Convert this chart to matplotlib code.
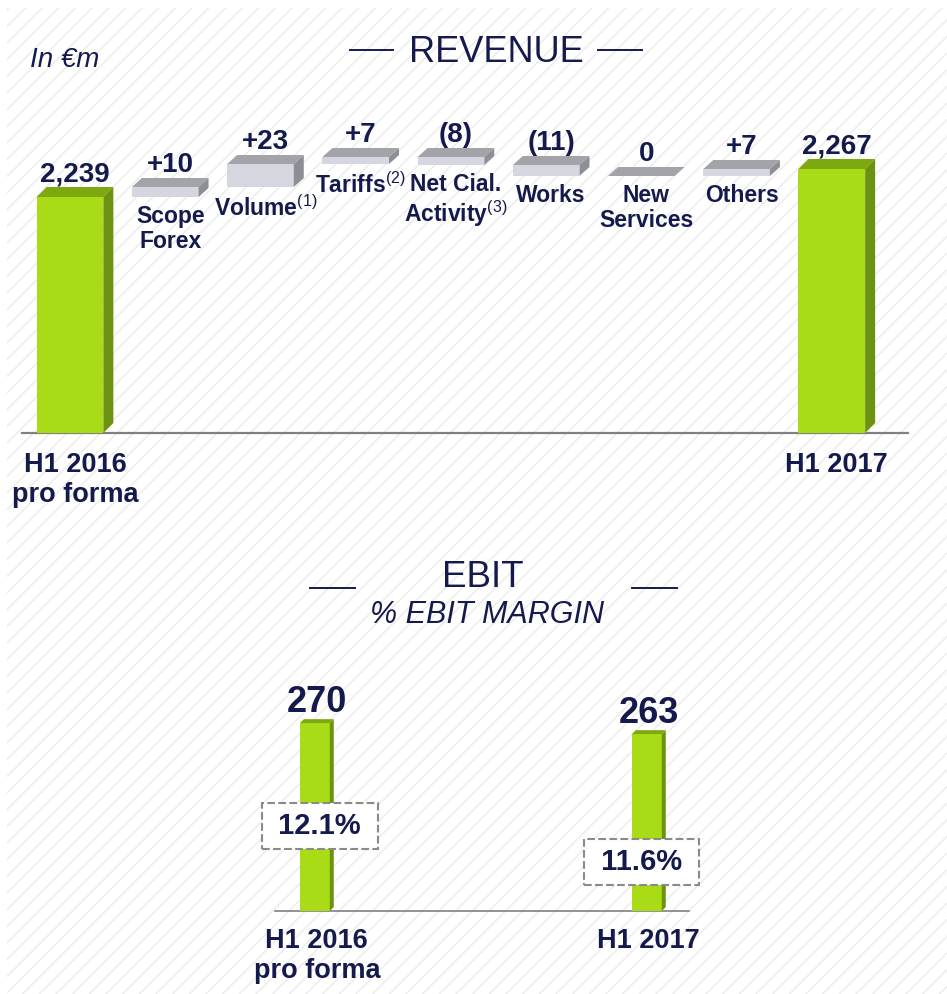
import matplotlib
matplotlib.use('Agg')
import numpy as np
import matplotlib.pyplot as plt
from matplotlib.patches import Polygon, Rectangle
from matplotlib.lines import Line2D
from matplotlib.transforms import blended_transform_factory

plt.rcParams['font.family'] = 'Liberation Sans'
plt.rcParams['mathtext.fontset'] = 'custom'
plt.rcParams['mathtext.rm'] = 'Liberation Sans'
plt.rcParams['hatch.linewidth'] = 1.0

# Revenue bridge (in €m)
rev_start = 2239
rev_end = 2267
rev_steps = [10, 23, 7, -8, -11, 0, 7]
rev_step_text = ['+10', '+23', '+7', '(8)', '(11)', '0', '+7']
rev_step_labels = ['Scope\nForex', r'Volume$^{\mathrm{(1)}}$', r'Tariffs$^{\mathrm{(2)}}$',
                   'Net Cial.\n' + r'Activity$^{\mathrm{(3)}}$', 'Works', 'New\nServices', 'Others']
rev_end_labels = ['H1 2016\npro forma', 'H1 2017']
rev_end_text = ['2,239', '2,267']

# EBIT
ebit_labels = ['H1 2016\npro forma', 'H1 2017']
ebit_values = [270, 263]
ebit_margin = ['12.1%', '11.6%']

NAVY = '#141a4c'
GREEN = ('#a9dc17', '#7da80f', '#6b9210')
GREY = ('#d4d7df', '#a3a4a9', '#8d8f94')

W, H = 947, 994


def fx(x):
    return x / W


def fy(y):
    return 1 - y / H


def bar3d(ax, x, lo, hi, width, dx, dy, colors):
    front, top, side = colors
    ax.bar(x, hi - lo, bottom=lo, width=width, color=front, zorder=2)
    l, r = x - width / 2, x + width / 2
    ax.add_patch(Polygon([(l, hi), (r, hi), (r + dx, hi + dy), (l + dx, hi + dy)],
                         closed=True, fc=top, ec='none', zorder=2))
    ax.add_patch(Polygon([(r, lo), (r + dx, lo + dy), (r + dx, hi + dy), (r, hi)],
                         closed=True, fc=side, ec='none', zorder=2))


fig = plt.figure(figsize=(W / 100, H / 100), dpi=100)

# faint diagonal texture of the slide background
fig.patches.append(Rectangle((fx(7), 0), 1, fy(8), transform=fig.transFigure,
                             fc='white', ec='#ebebeb', hatch='//', lw=0, zorder=-10))

# ---------------- REVENUE ----------------
rev_floor = 2003
ax = fig.add_axes([fx(22.4), fy(433), (908 - 22.4) / W, 333 / H])
ax.set_xlim(-0.5, 8.8)
ax.set_ylim(rev_floor, rev_floor + 333)
ax.axis('off')

w, dx, dy = 0.70, 0.105, 9
n = len(rev_steps)
cum = rev_start + np.cumsum([0] + rev_steps)

# end bars
for i, (val, txt, lab) in zip([0, n + 1], zip([rev_start, rev_end], rev_end_text, rev_end_labels)):
    bar3d(ax, i, rev_floor, val, w, dx, 10, GREEN)
    ax.annotate(txt, xy=(i + dx / 2, val + 10), xytext=(0, 4), textcoords='offset points',
                ha='center', va='baseline', fontsize=20, fontweight='bold', color=NAVY)
    ax.annotate(lab, xy=(i + dx / 2, rev_floor), xytext=(0, -14), textcoords='offset points',
                ha='center', va='top', fontsize=19.5, fontweight='bold', color=NAVY,
                linespacing=1.2, annotation_clip=False)

# step bars
for k in range(n):
    x = k + 1
    lo, hi = sorted([cum[k], cum[k + 1]])
    bar3d(ax, x, lo, hi, w, dx, dy, GREY)
    ax.annotate(rev_step_text[k], xy=(x + dx / 2, hi + dy), xytext=(0, 4), textcoords='offset points',
                ha='center', va='baseline', fontsize=20, fontweight='bold', color=NAVY)
    ax.annotate(rev_step_labels[k], xy=(x + dx / 2, lo), xytext=(0, -6), textcoords='offset points',
                ha='center', va='top', fontsize=16.5, fontweight='bold', color=NAVY,
                linespacing=1.1)

ax.axhline(rev_floor, color='#808080', lw=1.6, clip_on=False, zorder=1)

fig.text(fx(30), fy(67), 'In €m', fontsize=20, style='italic', color=NAVY, va='baseline')
fig.text(fx(496), fy(62), 'REVENUE', fontsize=26, color=NAVY, ha='center', va='baseline')
for x0, x1 in [(350, 393), (598, 642)]:
    fig.add_artist(Line2D([fx(x0), fx(x1)], [fy(50), fy(50)], color=NAVY, lw=1.4))

# ---------------- EBIT ----------------
ebit_floor = 150.4
ax2 = fig.add_axes([fx(275), fy(911), 414 / W, 261 / H])
ax2.set_xlim(-0.12, 1.127)
ax2.set_ylim(ebit_floor, ebit_floor + 261 / 1.571)
ax2.axis('off')

bw, bdx, bdy = 0.09, 0.012, 2.5
margin_y = [0.326, 0.188]
blend = blended_transform_factory(ax2.transData, ax2.transAxes)
for i, (val, lab, mg) in enumerate(zip(ebit_values, ebit_labels, ebit_margin)):
    bar3d(ax2, i, ebit_floor, val, bw, bdx, bdy, GREEN)
    ax2.annotate(str(val), xy=(i + bdx / 2, val + bdy), xytext=(0, 5), textcoords='offset points',
                 ha='center', va='baseline', fontsize=26, fontweight='bold', color=NAVY)
    ax2.annotate(lab, xy=(i + bdx / 2, ebit_floor), xytext=(0, -12), textcoords='offset points',
                 ha='center', va='top', fontsize=19.5, fontweight='bold', color=NAVY,
                 linespacing=1.2, annotation_clip=False)
    ax2.text(i + (0.015 if i == 0 else -0.015), margin_y[i], ' ' + mg + ' ', transform=blend,
             ha='center', va='center', fontsize=21, fontweight='bold', color=NAVY, zorder=5,
             bbox=dict(boxstyle='square,pad=0.3', fc='white', ec='#8a8a8a', ls='--', lw=1.5))

ax2.axhline(ebit_floor, color='#808080', lw=1.2, clip_on=False, zorder=1)

fig.text(fx(483), fy(587), 'EBIT', fontsize=26.5, color=NAVY, ha='center', va='baseline')
fig.text(fx(487), fy(623), '% EBIT MARGIN', fontsize=22, style='italic', color=NAVY,
         ha='center', va='baseline')
for x0, x1 in [(310, 355), (632, 677)]:
    fig.add_artist(Line2D([fx(x0), fx(x1)], [fy(588), fy(588)], color=NAVY, lw=1.4))

fig.savefig('out.png', dpi=100)
